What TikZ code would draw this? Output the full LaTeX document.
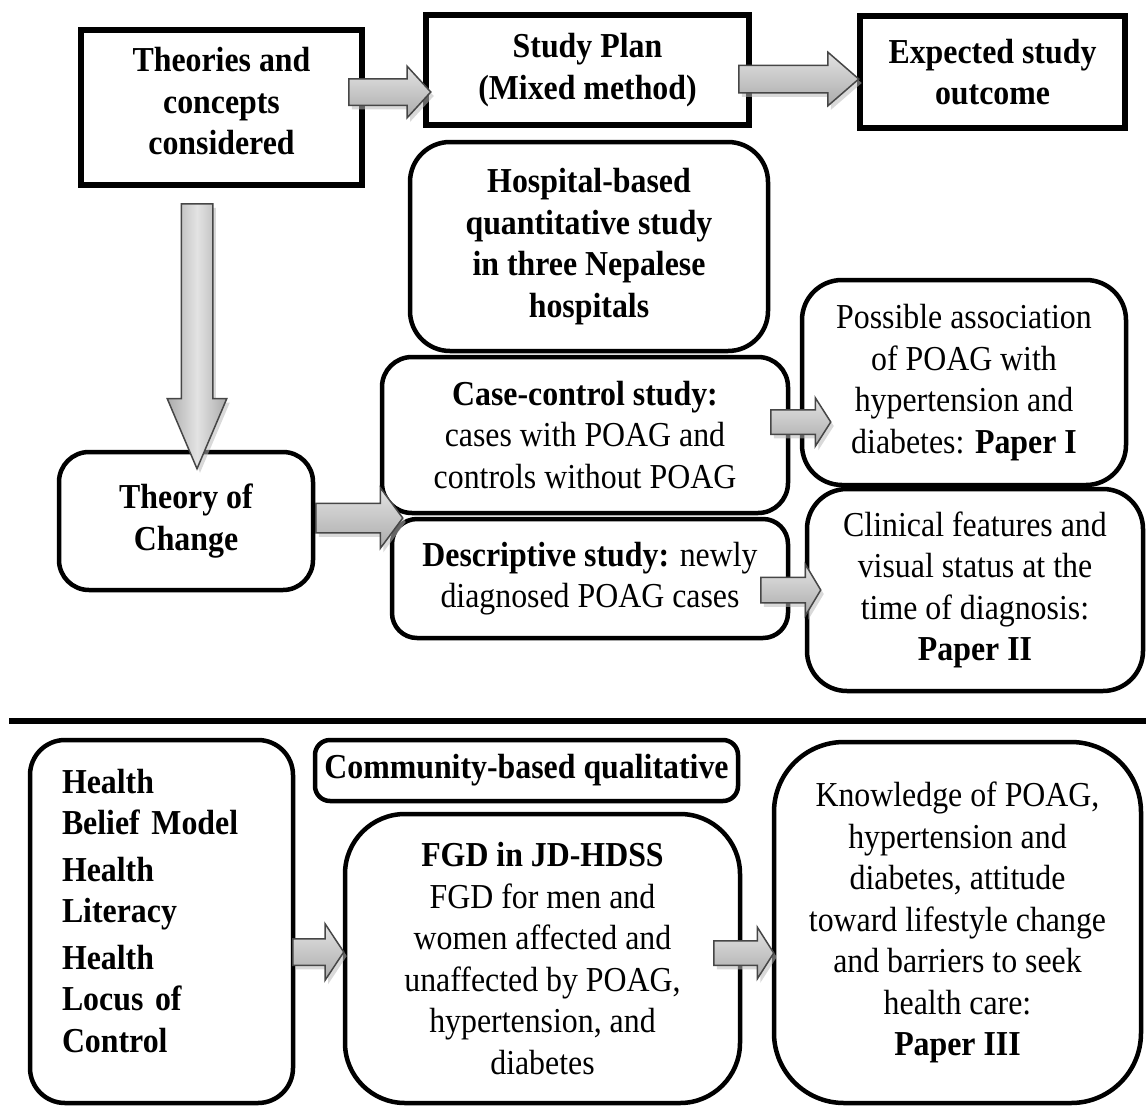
\documentclass[tikz,border=0pt]{standalone}
\usepackage{fontspec}
\setmainfont[FakeStretch=0.91]{Liberation Serif}
\usetikzlibrary{shapes.arrows,shadows}
\tikzset{
    sqbox/.style={draw, line width=6pt, align=center, inner sep=0pt,
        font=\bfseries\fontsize{35}{41.5}\selectfont},
    rbox/.style={draw, line width=4.5pt, rounded corners=#1, align=center, inner sep=0pt,
        font=\fontsize{35}{41.5}\selectfont},
    fatarrow/.style 2 args={single arrow, anchor=tail, draw=gray!55!black, line width=1.5pt,
        inner sep=#1, single arrow head extend=#2, top color=gray!22, bottom color=gray!66,
        drop shadow={shadow xshift=3pt, shadow yshift=-4pt, fill=gray!55, opacity=.55}}
}

\begin{document}
\begin{tikzpicture}[x=1pt, y=-1pt, line cap=round]
\useasboundingbox (0,0) rectangle (1146,1119);

\node[sqbox, minimum width=281pt, minimum height=155pt] (theories) at (221.5,107.5) {Theories and\\concepts\\considered\\[-29pt]\mbox{}};
\node[sqbox, minimum width=323pt, minimum height=110pt] (plan) at (587.5,70) {Study Plan\\(Mixed method)};
\node[sqbox, minimum width=265pt, minimum height=112pt] (outcome) at (992.5,72) {Expected study\\outcome};

\node[rbox=40pt, minimum width=358pt, minimum height=209pt, font=\bfseries\fontsize{35}{41.5}\selectfont] (hospital) at (589,246.5) {Hospital-based\\quantitative study\\in three Nepalese\\hospitals};
\node[rbox=30pt, minimum width=406pt, minimum height=156pt] (casecontrol) at (585,435) {\textbf{Case-control study:}\\cases with POAG and\\controls without POAG};
\node[rbox=25pt, minimum width=396pt, minimum height=119pt] (descriptive) at (590,578.5) {\textbf{Descriptive study:} newly\\diagnosed POAG cases};
\node[rbox=40pt, minimum width=324pt, minimum height=205pt] (paperone) at (964,382.5) {Possible association\\of POAG with\\hypertension and\\diabetes: \textbf{Paper I}};
\node[rbox=40pt, minimum width=336pt, minimum height=202pt] (papertwo) at (975,590) {Clinical features and\\visual status at the\\time of diagnosis:\\\textbf{Paper II}};
\node[rbox=30pt, minimum width=254pt, minimum height=138pt, font=\bfseries\fontsize{35}{41.5}\selectfont] (change) at (186,521) {Theory of\\Change};

\node[fatarrow={12.5pt}{12.5pt}, single arrow tip angle=95, minimum height=82pt] (a1) at (348,92) {};
\node[fatarrow={13pt}{13pt}, single arrow tip angle=82, minimum height=120pt] (a2) at (738,79) {};
\node[fatarrow={15pt}{14pt}, single arrow tip angle=46, shape border rotate=270, minimum height=265pt,
    left color=gray!66, right color=gray!66, middle color=gray!22] (a3) at (197,203) {};
\node[fatarrow={14pt}{15.5pt}, single arrow tip angle=107, minimum height=87pt] (a4) at (315,518) {};
\node[fatarrow={11.5pt}{12pt}, single arrow tip angle=115, minimum height=60pt] (a5) at (770,422) {};
\node[fatarrow={12pt}{13pt}, single arrow tip angle=118, minimum height=60pt] (a6) at (760,590) {};

\draw[line width=5.5pt, line cap=butt] (9,721) -- (1146,721);

\node[rbox=35pt, minimum height=363pt, text width=199pt, inner xsep=32pt, align=left,
    font=\bfseries\fontsize{35}{41.5}\selectfont] (models) at (161.5,921.5)
    {Health\\Belief Model\\[5pt]Health\\Literacy\\[5pt]Health\\Locus of\\Control\\[-19.5pt]\mbox{}};
\node[rbox=15pt, minimum width=423pt, minimum height=61pt, font=\bfseries\fontsize{35}{41.5}\selectfont] (community) at (526.5,770.5) {Community-based qualitative};
\node[rbox=60pt, minimum width=395pt, minimum height=289pt] (fgd) at (542.5,958.5) {\textbf{FGD in JD-HDSS}\\FGD for men and\\women affected and\\unaffected by POAG,\\hypertension, and\\diabetes};
\node[rbox=70pt, minimum width=367pt, minimum height=361pt] (paperthree) at (957.5,922.5) {Knowledge of POAG,\\hypertension and\\diabetes, attitude\\toward lifestyle change\\and barriers to seek\\health care:\\\textbf{Paper III}};

\node[fatarrow={12.5pt}{15pt}, single arrow tip angle=113, minimum height=51pt] (a7) at (292,952) {};
\node[fatarrow={11.5pt}{13.5pt}, single arrow tip angle=115, minimum height=60pt] (a8) at (713,953) {};
\end{tikzpicture}
\end{document}
